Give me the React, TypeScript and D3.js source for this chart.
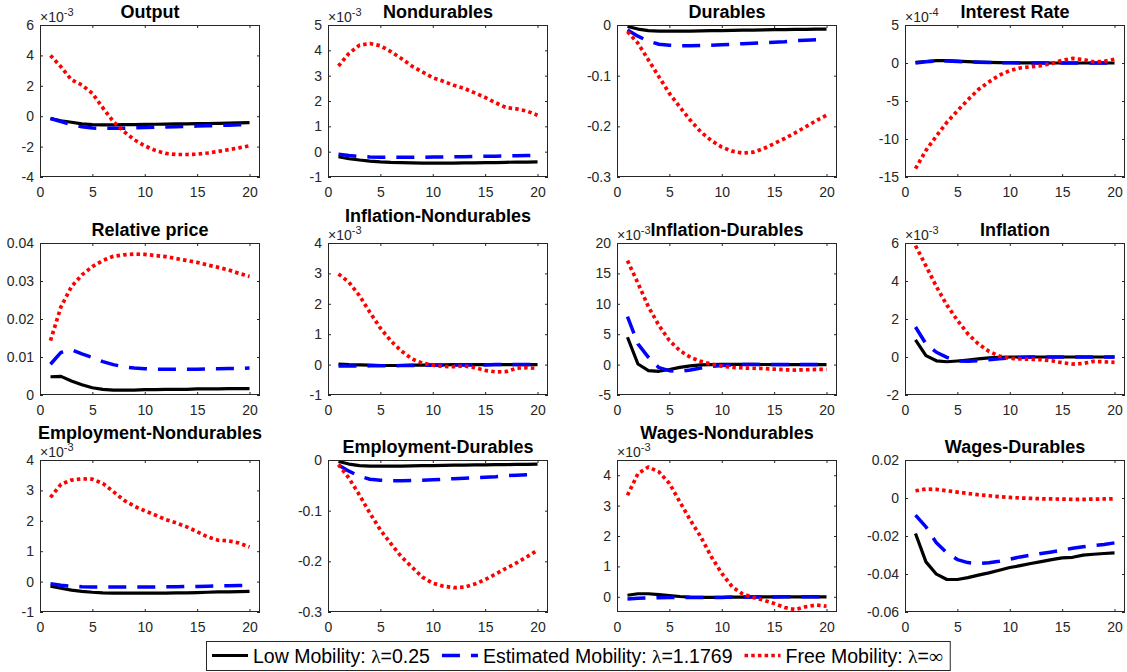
import React, { useRef, useEffect } from 'react';
import * as d3 from 'd3';

// horizon (quarters after the shock)
const periods = [1, 2, 3, 4, 5, 6, 7, 8, 9, 10, 11, 12, 13, 14, 15, 16, 17, 18, 19, 20];
const xDomain = [0, 21];
const xTicks = [0, 5, 10, 15, 20];

// Output (x10^-3)
const outputLow = [-0.15, -0.3, -0.4, -0.5, -0.55, -0.57, -0.57, -0.56, -0.55, -0.54, -0.53, -0.52, -0.51, -0.5, -0.49, -0.48, -0.47, -0.46, -0.44, -0.42];
const outputEst = [-0.15, -0.35, -0.55, -0.7, -0.78, -0.8, -0.8, -0.79, -0.77, -0.75, -0.73, -0.71, -0.69, -0.67, -0.65, -0.63, -0.61, -0.59, -0.57, -0.55];
const outputFree = [4.0, 3.25, 2.4, 2.05, 1.5, 0.55, -0.35, -1.0, -1.55, -1.95, -2.25, -2.45, -2.52, -2.52, -2.5, -2.42, -2.32, -2.2, -2.08, -1.95];
const outputRange = [-4, 6];
const outputTicks = [-4, -2, 0, 2, 4, 6];

// Nondurables (x10^-3)
const nondLow = [-0.2, -0.28, -0.33, -0.37, -0.4, -0.42, -0.43, -0.44, -0.45, -0.45, -0.45, -0.45, -0.44, -0.44, -0.43, -0.43, -0.42, -0.41, -0.41, -0.4];
const nondEst = [-0.1, -0.15, -0.19, -0.21, -0.22, -0.22, -0.22, -0.22, -0.22, -0.21, -0.21, -0.2, -0.2, -0.19, -0.18, -0.18, -0.17, -0.16, -0.15, -0.14];
const nondFree = [3.38, 3.88, 4.2, 4.27, 4.18, 3.95, 3.68, 3.38, 3.15, 2.92, 2.78, 2.62, 2.5, 2.32, 2.14, 1.93, 1.74, 1.69, 1.6, 1.44];
const nondRange = [-1, 5];
const nondTicks = [-1, 0, 1, 2, 3, 4, 5];

// Durables
const durLow = [-0.003, -0.008, -0.011, -0.012, -0.012, -0.012, -0.012, -0.0115, -0.011, -0.011, -0.0105, -0.01, -0.01, -0.0095, -0.009, -0.009, -0.0088, -0.0085, -0.0083, -0.008];
const durEst = [-0.01, -0.022, -0.032, -0.038, -0.04, -0.041, -0.041, -0.0405, -0.04, -0.039, -0.038, -0.037, -0.036, -0.035, -0.034, -0.033, -0.031, -0.03, -0.029, -0.028];
const durFree = [-0.013, -0.036, -0.069, -0.102, -0.135, -0.162, -0.188, -0.211, -0.228, -0.241, -0.249, -0.253, -0.251, -0.244, -0.234, -0.224, -0.213, -0.201, -0.189, -0.178];
const durRange = [-0.3, 0];
const durTicks = [-0.3, -0.2, -0.1, 0];

// Interest Rate (x10^-4)
const rateLow = [0.1, 0.2, 0.3, 0.3, 0.25, 0.18, 0.12, 0.08, 0.05, 0.03, 0.02, 0.01, 0.01, 0, 0, 0, 0, 0, 0, 0];
const rateEst = [0.0, 0.15, 0.25, 0.25, 0.2, 0.15, 0.1, 0.07, 0.05, 0.03, 0.02, 0.01, 0.01, 0, 0, 0, 0, 0, 0, 0];
const rateFree = [-13.9, -11.5, -9.6, -7.8, -6.3, -4.85, -3.5, -2.5, -1.6, -1.0, -0.65, -0.5, -0.35, -0.05, 0.35, 0.6, 0.45, 0.15, 0.2, 0.5];
const rateRange = [-15, 5];
const rateTicks = [-15, -10, -5, 0, 5];

// Relative price
const relLow = [0.0048, 0.0049, 0.0037, 0.0027, 0.0019, 0.0015, 0.0013, 0.0013, 0.0013, 0.0014, 0.0014, 0.0015, 0.0015, 0.0015, 0.0016, 0.0016, 0.0016, 0.0017, 0.0017, 0.0017];
const relEst = [0.0081, 0.0112, 0.0119, 0.0108, 0.0099, 0.0088, 0.008, 0.0074, 0.0071, 0.0069, 0.0068, 0.0068, 0.0068, 0.0068, 0.0068, 0.0069, 0.0069, 0.007, 0.007, 0.0071];
const relFree = [0.0143, 0.0232, 0.0285, 0.0316, 0.0338, 0.0354, 0.0365, 0.0369, 0.0371, 0.037, 0.0367, 0.0364, 0.0359, 0.0354, 0.0349, 0.0342, 0.0336, 0.0329, 0.032, 0.0312];
const relRange = [0, 0.04];
const relTicks = [0, 0.01, 0.02, 0.03, 0.04];

// Inflation-Nondurables (x10^-3)
const inflNLow = [0.02, 0.0, -0.01, -0.02, -0.03, -0.03, -0.03, -0.02, -0.02, -0.01, -0.01, 0, 0, 0, 0, 0, 0, 0, 0, 0];
const inflNEst = [-0.05, -0.05, -0.05, -0.04, -0.04, -0.04, -0.03, -0.03, -0.02, -0.02, -0.02, -0.01, -0.01, -0.01, -0.01, 0, 0, 0, 0, 0];
const inflNFree = [2.98, 2.71, 2.27, 1.72, 1.2, 0.78, 0.45, 0.19, 0.05, -0.02, -0.06, -0.07, -0.04, -0.1, -0.19, -0.24, -0.23, -0.12, -0.1, -0.13];
const inflNRange = [-1, 4];
const inflNTicks = [-1, 0, 1, 2, 3, 4];

// Inflation-Durables (x10^-3)
const inflDLow = [4.5, 0.1, -1.0, -1.1, -0.8, -0.45, -0.2, -0.05, 0, 0.05, 0.05, 0.05, 0.03, 0.02, 0.01, 0, 0, 0, 0, 0];
const inflDEst = [7.9, 3.4, 1.2, -0.5, -1.0, -1.1, -0.9, -0.55, -0.3, -0.15, -0.05, 0, 0.02, 0.02, 0.01, 0, 0, 0, 0, 0];
const inflDFree = [17.1, 13.4, 9.5, 6.45, 3.96, 2.3, 1.2, 0.53, 0.09, -0.24, -0.46, -0.55, -0.6, -0.65, -0.75, -0.85, -0.9, -0.85, -0.8, -0.8];
const inflDRange = [-5, 20];
const inflDTicks = [-5, 0, 5, 10, 15, 20];

// Inflation (x10^-3)
const inflLow = [0.9, 0.07, -0.2, -0.25, -0.21, -0.16, -0.1, -0.05, -0.02, 0, 0, 0, 0, 0, 0, 0, 0, 0, 0, 0];
const inflEst = [1.58, 0.69, 0.25, -0.02, -0.2, -0.23, -0.2, -0.14, -0.09, -0.05, -0.02, 0, 0, 0, 0, 0, 0, 0, 0, 0];
const inflFree = [5.86, 4.8, 3.7, 2.73, 1.93, 1.22, 0.69, 0.3, 0.05, -0.07, -0.1, -0.12, -0.14, -0.2, -0.3, -0.37, -0.34, -0.23, -0.25, -0.28];
const inflRange = [-2, 6];
const inflTicks = [-2, 0, 2, 4, 6];

// Employment-Nondurables (x10^-3)
const empNLow = [-0.15, -0.22, -0.28, -0.32, -0.35, -0.37, -0.38, -0.38, -0.38, -0.38, -0.38, -0.38, -0.37, -0.37, -0.36, -0.35, -0.34, -0.34, -0.33, -0.32];
const empNEst = [-0.07, -0.12, -0.15, -0.17, -0.18, -0.18, -0.18, -0.18, -0.18, -0.18, -0.18, -0.17, -0.17, -0.16, -0.16, -0.15, -0.14, -0.14, -0.13, -0.12];
const empNFree = [2.77, 3.2, 3.34, 3.38, 3.37, 3.23, 2.96, 2.68, 2.48, 2.33, 2.19, 2.04, 1.93, 1.8, 1.64, 1.47, 1.36, 1.34, 1.27, 1.14];
const empNRange = [-1, 4];
const empNTicks = [-1, 0, 1, 2, 3, 4];

// Employment-Durables
const empDLow = [-0.003, -0.008, -0.011, -0.012, -0.012, -0.012, -0.012, -0.0115, -0.011, -0.011, -0.0105, -0.01, -0.01, -0.0098, -0.0095, -0.009, -0.009, -0.0088, -0.0085, -0.0083];
const empDEst = [-0.01, -0.022, -0.032, -0.038, -0.04, -0.041, -0.041, -0.0405, -0.04, -0.039, -0.038, -0.037, -0.036, -0.035, -0.034, -0.033, -0.031, -0.03, -0.029, -0.028];
const empDFree = [-0.009, -0.036, -0.069, -0.105, -0.138, -0.165, -0.191, -0.211, -0.231, -0.243, -0.249, -0.252, -0.251, -0.245, -0.236, -0.225, -0.214, -0.203, -0.191, -0.178];
const empDRange = [-0.3, 0];
const empDTicks = [-0.3, -0.2, -0.1, 0];

// Wages-Nondurables (x10^-3)
const wageNLow = [0.05, 0.1, 0.1, 0.07, 0.04, 0.01, -0.01, -0.02, -0.02, -0.02, -0.01, -0.01, 0, 0, 0, 0, 0, 0, 0, 0];
const wageNEst = [-0.07, -0.05, -0.04, -0.03, -0.02, -0.02, -0.02, -0.02, -0.02, -0.02, -0.01, -0.01, -0.01, -0.01, -0.01, 0, 0, 0, 0, 0];
const wageNFree = [3.34, 4.05, 4.27, 4.11, 3.73, 3.12, 2.52, 1.97, 1.32, 0.77, 0.33, 0.09, -0.02, -0.11, -0.22, -0.35, -0.42, -0.33, -0.27, -0.31];
const wageNRange = [-0.5, 4.5];
const wageNTicks = [0, 1, 2, 3, 4];

// Wages-Durables
const wageDLow = [-0.0187, -0.0336, -0.0401, -0.0429, -0.0429, -0.0419, -0.0406, -0.0394, -0.038, -0.0366, -0.0356, -0.0345, -0.0335, -0.0324, -0.0315, -0.0312, -0.0301, -0.0296, -0.0292, -0.0289];
const wageDEst = [-0.009, -0.0152, -0.0236, -0.0289, -0.0324, -0.034, -0.0345, -0.0341, -0.0333, -0.0322, -0.031, -0.0301, -0.0292, -0.0284, -0.0275, -0.0264, -0.0257, -0.025, -0.0245, -0.0236];
const wageDFree = [0.0038, 0.0047, 0.0045, 0.0038, 0.0031, 0.0024, 0.0017, 0.0012, 0.0007, 0.0003, 0, -0.0002, -0.0004, -0.0005, -0.0006, -0.0007, -0.0007, -0.0006, -0.0005, -0.0004];
const wageDRange = [-0.06, 0.02];
const wageDTicks = [-0.06, -0.04, -0.02, 0, 0.02];

const legendNames = ['Low Mobility', 'Estimated Mobility', 'Free Mobility'];
const lambdaValues = ['0.25', '1.1769', '\u221e'];

const panels = [
  { title: 'Output', low: outputLow, est: outputEst, free: outputFree, range: outputRange, ticks: outputTicks, exp: -3 },
  { title: 'Nondurables', low: nondLow, est: nondEst, free: nondFree, range: nondRange, ticks: nondTicks, exp: -3 },
  { title: 'Durables', low: durLow, est: durEst, free: durFree, range: durRange, ticks: durTicks, exp: 0 },
  { title: 'Interest Rate', low: rateLow, est: rateEst, free: rateFree, range: rateRange, ticks: rateTicks, exp: -4 },
  { title: 'Relative price', low: relLow, est: relEst, free: relFree, range: relRange, ticks: relTicks, exp: 0 },
  { title: 'Inflation-Nondurables', low: inflNLow, est: inflNEst, free: inflNFree, range: inflNRange, ticks: inflNTicks, exp: -3 },
  { title: 'Inflation-Durables', low: inflDLow, est: inflDEst, free: inflDFree, range: inflDRange, ticks: inflDTicks, exp: -3 },
  { title: 'Inflation', low: inflLow, est: inflEst, free: inflFree, range: inflRange, ticks: inflTicks, exp: -3 },
  { title: 'Employment-Nondurables', low: empNLow, est: empNEst, free: empNFree, range: empNRange, ticks: empNTicks, exp: -3 },
  { title: 'Employment-Durables', low: empDLow, est: empDEst, free: empDFree, range: empDRange, ticks: empDTicks, exp: 0 },
  { title: 'Wages-Nondurables', low: wageNLow, est: wageNEst, free: wageNFree, range: wageNRange, ticks: wageNTicks, exp: -3 },
  { title: 'Wages-Durables', low: wageDLow, est: wageDEst, free: wageDFree, range: wageDRange, ticks: wageDTicks, exp: 0 },
];

// layout / styling
const width = 1127;
const height = 672;
const colLeft = [40, 328, 617, 905];
const rowTop = [25, 243, 460];
const panelW = 220;
const panelH = 152;
const raisedTitles = ['Inflation-Nondurables', 'Employment-Nondurables', 'Wages-Nondurables'];
const FONT = '"Liberation Sans", Arial, Helvetica, sans-serif';
const SERIF = '"Liberation Serif", "DejaVu Serif", serif';
const AXIS_COLOR = '#262626';

const seriesStyles = [
  { key: 'low', color: '#000000', width: 3.2, dash: null },
  { key: 'est', color: '#0000ff', width: 3.5, dash: '18,11' },
  { key: 'free', color: '#ff0000', width: 3.7, dash: '3.5,3.2' },
];

const App = () => {
  const svgRef = useRef<SVGSVGElement>(null);

  useEffect(() => {
    const svg = d3.select(svgRef.current);
    svg.selectAll('*').remove();

    svg.append('rect').attr('width', width).attr('height', height).attr('fill', 'white');

    const x = d3.scaleLinear().domain(xDomain).range([0, panelW]);

    panels.forEach((p: any, i) => {
      const left = colLeft[i % 4];
      const top = rowTop[Math.floor(i / 4)];
      const y = d3.scaleLinear().domain(p.range).range([panelH, 0]);

      const g = svg.append('g').attr('transform', `translate(${left},${top})`);

      const clipId = `clip-${i}`;
      g.append('clipPath').attr('id', clipId)
        .append('rect').attr('width', panelW).attr('height', panelH);

      const line = d3.line<number>()
        .x((d, j) => x(periods[j]))
        .y(d => y(d));

      const plot = g.append('g').attr('clip-path', `url(#${clipId})`);
      seriesStyles.forEach(s => {
        plot.append('path')
          .datum(p[s.key])
          .attr('fill', 'none')
          .attr('stroke', s.color)
          .attr('stroke-width', s.width)
          .attr('stroke-dasharray', s.dash)
          .attr('stroke-linejoin', 'round')
          .attr('d', line);
      });

      const styleAxis = (a) => {
        a.attr('color', AXIS_COLOR).attr('font-family', FONT).attr('font-size', 14);
        a.select('.domain').remove();
        a.selectAll('line').attr('stroke-width', 1);
      };

      // bottom + left with labels, top + right ticks only (inward)
      g.append('g')
        .attr('transform', `translate(0,${panelH})`)
        .call(d3.axisBottom(x).tickValues(xTicks).tickSizeInner(-3).tickSizeOuter(0).tickPadding(10).tickFormat(d => String(d)))
        .call(styleAxis);
      g.append('g')
        .call(d3.axisTop(x).tickValues(xTicks).tickSizeInner(-3).tickSizeOuter(0).tickFormat(() => ''))
        .call(styleAxis);
      g.append('g')
        .call(d3.axisLeft(y).tickValues(p.ticks).tickSizeInner(-3).tickSizeOuter(0).tickPadding(6).tickFormat(d => String(d)))
        .call(styleAxis);
      g.append('g')
        .attr('transform', `translate(${panelW},0)`)
        .call(d3.axisRight(y).tickValues(p.ticks).tickSizeInner(-3).tickSizeOuter(0).tickFormat(() => ''))
        .call(styleAxis);

      g.append('rect')
        .attr('x', 0.5).attr('y', 0.5)
        .attr('width', panelW - 1).attr('height', panelH - 1)
        .attr('fill', 'none')
        .attr('stroke', AXIS_COLOR)
        .attr('stroke-width', 1);

      // exponent label
      if (p.exp !== 0) {
        const e = g.append('text')
          .attr('x', 0).attr('y', -3)
          .attr('font-family', FONT).attr('font-size', 14)
          .attr('fill', AXIS_COLOR)
          .text('\u00d710');
        e.append('tspan')
          .attr('dy', -6)
          .attr('font-size', 11)
          .text(`-${-p.exp}`);
      }

      g.append('text')
        .attr('x', panelW / 2)
        .attr('y', raisedTitles.includes(p.title) ? -21 : -7)
        .attr('text-anchor', 'middle')
        .attr('font-family', FONT)
        .attr('font-size', 18)
        .attr('font-weight', 'bold')
        .attr('fill', '#000')
        .text(p.title);
    });

    // legend
    const legendTop = 641;
    const legendH = 29;
    const legendCenter = 578;
    const legend = svg.append('g');
    const box = legend.append('rect')
      .attr('y', legendTop + 0.5)
      .attr('height', legendH)
      .attr('fill', 'white')
      .attr('stroke', AXIS_COLOR)
      .attr('stroke-width', 1);
    const items = legend.append('g');
    let cursor = 6;
    seriesStyles.forEach((s, i) => {
      items.append('line')
        .attr('x1', cursor).attr('x2', cursor + 36)
        .attr('y1', legendTop + legendH / 2).attr('y2', legendTop + legendH / 2)
        .attr('stroke', s.color)
        .attr('stroke-width', s.width)
        .attr('stroke-dasharray', s.dash);
      const t = items.append('text')
        .attr('x', cursor + 41)
        .attr('y', legendTop + legendH / 2 + 7)
        .attr('font-family', FONT)
        .attr('font-size', 19.5)
        .attr('fill', '#000');
      t.append('tspan').text(`${legendNames[i]}: `);
      t.append('tspan').attr('font-family', SERIF).text('\u03bb');
      t.append('tspan').text('=');
      t.append('tspan')
        .attr('font-family', lambdaValues[i] === '\u221e' ? SERIF : FONT)
        .text(lambdaValues[i]);
      const len = (t.node() as SVGTextElement).getComputedTextLength();
      cursor += 41 + len + 12;
    });
    const boxW = cursor - 5;
    const boxLeft = Math.round(legendCenter - boxW / 2);
    box.attr('x', boxLeft + 0.5).attr('width', boxW);
    items.attr('transform', `translate(${boxLeft},0)`);
  }, []);

  return (
    <svg
      ref={svgRef}
      width={width}
      height={height}
      style={{ position: 'absolute', left: 0, top: 0, display: 'block' }}
    />
  );
};

export default App;
